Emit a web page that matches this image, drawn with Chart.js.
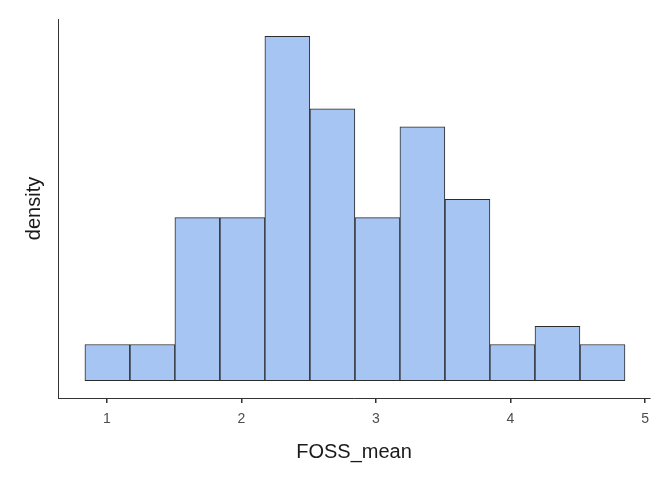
<!DOCTYPE html>
<html>
<head>
<meta charset="utf-8">
<script src="https://cdn.jsdelivr.net/npm/chart.js@4.4.0/dist/chart.umd.min.js"></script>
<style>
  html, body { margin: 0; padding: 0; background: #fff; }
  canvas { display: block; }
</style>
</head>
<body>
<canvas id="hist" width="672" height="480"></canvas>
<script>
// bin centres of FOSS_mean and the bar heights (counts, shown as density)
const binCenters = [1.003, 1.338, 1.672, 2.007, 2.341, 2.676, 3.011, 3.345, 3.680, 4.014, 4.349, 4.684];
const binCounts = [2, 2, 9, 9, 19, 15, 9, 14, 10, 2, 3, 2];
const xTicks = [1, 2, 3, 4, 5];

const canvasHist = document.getElementById('hist');

const points = [];
for (let i = 0; i < binCenters.length; i++) {
  points.push({ x: binCenters[i], y: binCounts[i] });
}

new Chart(canvasHist, {
  type: 'bar',
  data: {
    datasets: [
      {
        data: points,
        backgroundColor: '#a6c5f2',
        borderColor: '#2b2b2b',
        borderWidth: 1,
        borderSkipped: false,
        barPercentage: 1,
        categoryPercentage: 1,
        grouped: false
      }
    ]
  },
  options: {
    responsive: false,
    animation: false,
    layout: { padding: { top: 19, right: 22, left: 0, bottom: 0 } },
    plugins: {
      legend: { display: false },
      tooltip: { enabled: false }
    },
    scales: {
      x: {
        type: 'linear',
        min: 0.636,
        max: 5.037,
        offset: false,
        afterBuildTicks: (scale) => {
          scale.ticks = xTicks.map(v => ({ value: v }));
        },
        afterFit: (scale) => { scale.height = 82; },
        grid: {
          display: true,
          offset: false,
          drawOnChartArea: false,
          drawTicks: true,
          tickLength: 5,
          lineWidth: 1.5,
          color: '#333333'
        },
        border: { display: true, color: '#333333', width: 1 },
        ticks: {
          color: '#4d4d4d',
          padding: 8,
          maxRotation: 0,
          font: { family: 'Liberation Sans, Arial, sans-serif', size: 14 }
        },
        title: {
          display: true,
          text: 'FOSS_mean',
          color: '#1a1a1a',
          padding: { top: 0, bottom: 16 },
          font: { family: 'Liberation Sans, Arial, sans-serif', size: 20 }
        }
      },
      y: {
        min: -0.95,
        max: 19.95,
        afterFit: (scale) => { scale.width = 58; },
        grid: { display: false },
        border: { display: true, color: '#333333', width: 1 },
        ticks: { display: false },
        title: {
          display: true,
          text: 'density',
          color: '#1a1a1a',
          padding: { top: 22, bottom: 0 },
          font: { family: 'Liberation Sans, Arial, sans-serif', size: 20 }
        }
      }
    }
  }
});
</script>
</body>
</html>
